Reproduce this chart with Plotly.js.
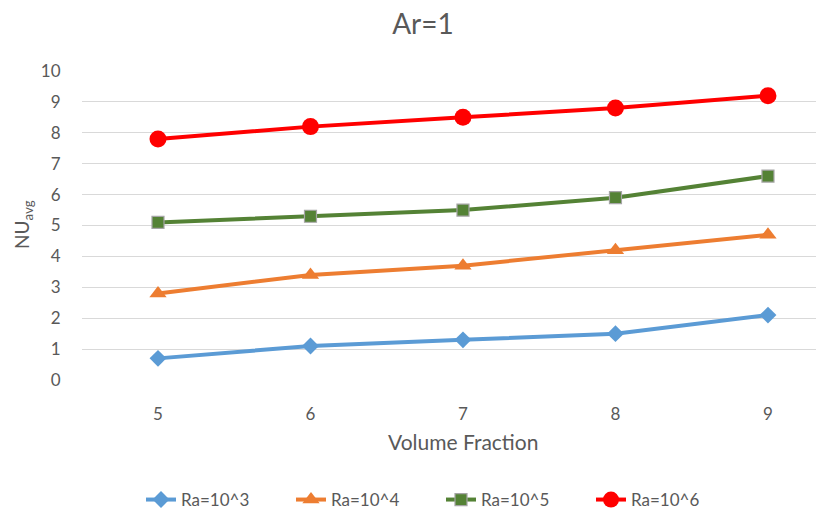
<!DOCTYPE html>
<html><head><meta charset="utf-8">
<script src="https://cdn.plot.ly/plotly-3.0.1.min.js"></script>
<style>body{margin:0;padding:0;background:#fff}#chart{width:816px;height:515px}</style>
</head><body><div id="chart"></div>
<script>
var volumeFraction = [5, 6, 7, 8, 9];
var seriesNames = ["Ra=10^3", "Ra=10^4", "Ra=10^5", "Ra=10^6"];
var ra3 = [0.7, 1.1, 1.3, 1.5, 2.1];
var ra4 = [2.8, 3.4, 3.7, 4.2, 4.7];
var ra5 = [5.1, 5.3, 5.5, 5.9, 6.6];
var ra6 = [7.8, 8.2, 8.5, 8.8, 9.2];
var yTicks = [0,1,2,3,4,5,6,7,8,9,10];

var font = "Lato, 'Open Sans', sans-serif";
var txt = "#595959";

var traces = [
  {x: volumeFraction, y: ra3, name: seriesNames[0], mode: "lines+markers",
   line: {color: "#5B9BD5", width: 4}, marker: {symbol: "diamond", size: 13, color: "#5B9BD5"}},
  {x: volumeFraction, y: ra4, name: seriesNames[1], mode: "lines+markers",
   line: {color: "#ED7D31", width: 4}, marker: {symbol: "triangle-up", size: 15, color: "#ED7D31"}},
  {x: volumeFraction, y: ra5, name: seriesNames[2], mode: "lines+markers",
   line: {color: "#548235", width: 4}, marker: {symbol: "square", size: 12, color: "#548235", line: {color: "#A5A5A5", width: 1.2}}},
  {x: volumeFraction, y: ra6, name: seriesNames[3], mode: "lines+markers",
   line: {color: "#FF0000", width: 4}, marker: {symbol: "circle", size: 17, color: "#FF0000"}}
];

var layout = {
  width: 816, height: 515,
  margin: {l: 82, r: 0, t: 71, b: 135},
  paper_bgcolor: "#fff", plot_bgcolor: "#fff",
  font: {family: font, color: txt, size: 17},
  title: {text: "Ar=1", x: 423/816, xref: "container", xanchor: "center", y: 1 - 24/515, yanchor: "middle", yref: "container",
          font: {size: 28, color: txt, family: font}},
  xaxis: {range: [4.5016, 9.315], tickvals: volumeFraction, ticktext: volumeFraction.map(String),
          showgrid: false, zeroline: false, showline: false, ticks: "outside", ticklen: 19, tickcolor: "rgba(0,0,0,0)",
          tickfont: {size: 17, color: txt}, fixedrange: true},
  yaxis: {range: [0, 10], tickvals: yTicks, showgrid: true, gridcolor: "#D9D9D9", gridwidth: 1,
          zeroline: false, showline: false, ticks: "outside", ticklen: 17, tickcolor: "rgba(0,0,0,0)",
          tickfont: {size: 17, color: txt}, fixedrange: true},
  showlegend: true,
  legend: {orientation: "h", x: 141/816, xanchor: "left", xref: "container", y: 15/515, yref: "container", yanchor: "middle",
           font: {size: 17, color: txt}, entrywidth: 105, entrywidthmode: "pixels", tracegroupgap: 0},
  annotations: [
    {text: "Volume Fraction", xref: "paper", yref: "paper", x: (463-82)/734, y: -(441-380)/309,
     xanchor: "center", yanchor: "middle", showarrow: false, font: {size: 21, color: txt}},
    {text: "NU<sub>avg</sub>", xref: "paper", yref: "paper", x: -(82-23)/734, y: (380-225)/309, textangle: -90,
     xanchor: "center", yanchor: "middle", showarrow: false, font: {size: 19, color: txt}}
  ]
};

Plotly.newPlot("chart", traces, layout, {displayModeBar: false, staticPlot: true});
</script></body></html>
